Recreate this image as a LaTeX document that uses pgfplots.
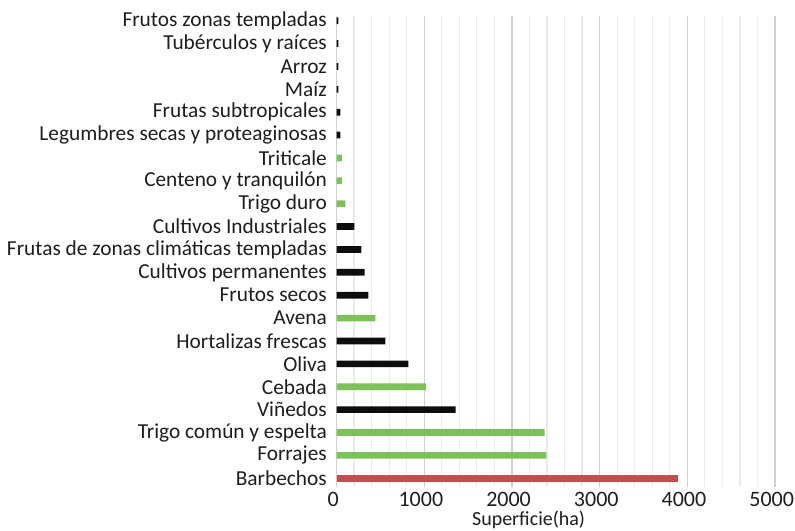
\documentclass[border=0pt]{standalone}
\usepackage{pgfplots}
\pgfplotsset{compat=1.18}
\usepackage{fontspec}
\setmainfont{Carlito}
\definecolor{gr}{RGB}{125,194,88}
\definecolor{rd}{RGB}{192,80,77}
\definecolor{bk}{RGB}{13,13,13}
\definecolor{gmaj}{RGB}{208,208,208}
\definecolor{gmin}{RGB}{235,235,235}
\definecolor{txt}{RGB}{30,30,30}
\begin{document}
\begin{tikzpicture}
\begin{axis}[
  at={(0,0)}, anchor=south west,
  scale only axis, width=328.9pt, height=353pt,
  xbar, bar width=5pt, bar shift=0pt,
  xmin=0, xmax=5000, ymin=-0.367, ymax=20.205,
  xtick={0,1000,2000,3000,4000,5000}, minor x tick num=4,
  ytick={0,...,20},
  yticklabels={Barbechos,Forrajes,Trigo común y espelta,Viñedos,Cebada,Oliva,Hortalizas frescas,Avena,Frutos secos,Cultivos permanentes,Frutas de zonas climáticas templadas,Cultivos Industriales,Trigo duro,Centeno y tranquilón,Triticale,Legumbres secas y proteaginosas,Frutas subtropicales,Maíz,Arroz,Tubérculos y raíces,Frutos zonas templadas},
  xmajorgrids, xminorgrids,
  major grid style={draw=gmaj, line width=0.9pt},
  minor grid style={draw=gmin, line width=0.9pt},
  axis line style={draw=none},
  tick style={draw=none},
  major tick length=0pt, minor tick length=0pt,
  /pgf/number format/assume math mode=true,
  /pgf/number format/1000 sep={},
  yticklabel style={font=\fontsize{16}{19}\selectfont, text=txt, anchor=east, inner sep=0pt, xshift=-7.1pt},
  xticklabel style={font=\fontsize{16.5}{19}\selectfont, text=txt, xshift=-2.5pt, inner sep=0pt, yshift=-4pt},
  xlabel={Superficie(ha)},
  xlabel style={font=\fontsize{15}{18}\selectfont, text=txt, at={(axis description cs:0.438,0)}, anchor=north, inner sep=0pt, yshift=-18pt},
]
\addplot[fill=rd, draw=none] coordinates {(3890,0)};
\addplot[fill=gr, draw=none] coordinates {(2392,1) (2374,2) (1021,4) (443,7) (102,12) (60,13) (60,14)};
\addplot[fill=bk, draw=none] coordinates {(1359,3) (819,5) (557,6) (363,8) (322,9) (285,10) (205,11) (45,15) (45,16) (22,17) (22,18) (22,19) (22,20)};
\end{axis}
\pgfresetboundingbox
\useasboundingbox (-252.4pt,-33.2pt) rectangle (343.9pt,365.0pt);
\end{tikzpicture}
\end{document}
